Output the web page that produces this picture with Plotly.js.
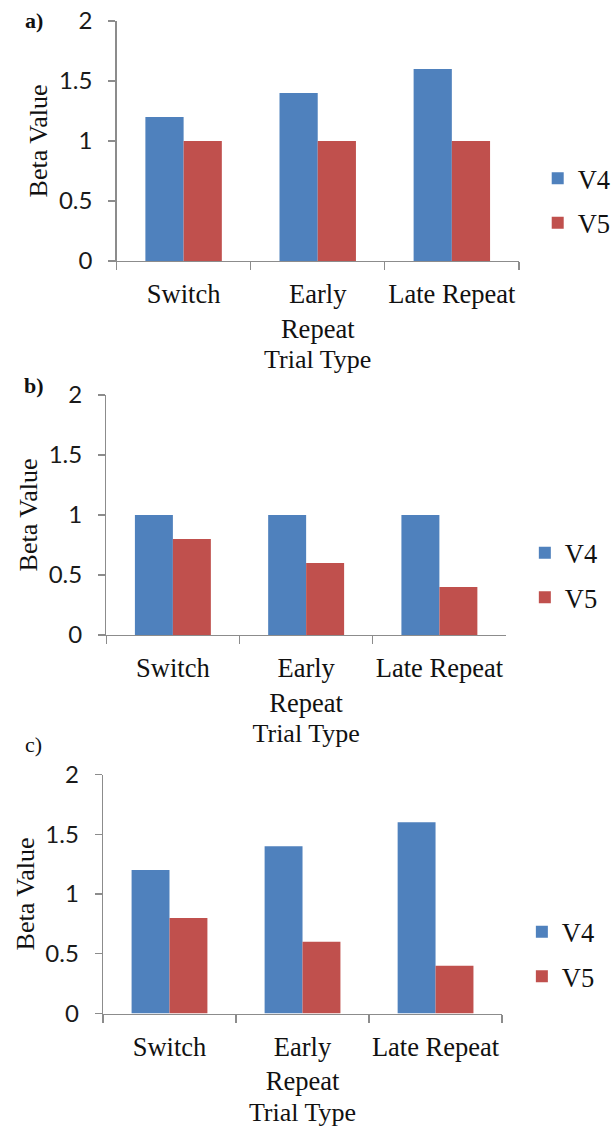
<!DOCTYPE html>
<html>
<head>
<meta charset="utf-8">
<script src="https://cdn.plot.ly/plotly-3.0.1.min.js"></script>
<style>
  html, body { margin: 0; padding: 0; background: #ffffff; }
  #chart { width: 616px; height: 1128px; }
</style>
</head>
<body>
<div id="chart"></div>
<script>
// Trial types shown on every panel
const categories = ['Switch', 'Early Repeat', 'Late Repeat'];
const categoryLabels = ['Switch', 'Early<br>Repeat', 'Late Repeat'];

// Beta values per panel
const panelA_V4 = [1.2, 1.4, 1.6];
const panelA_V5 = [1.0, 1.0, 1.0];
const panelB_V4 = [1.0, 1.0, 1.0];
const panelB_V5 = [0.8, 0.6, 0.4];
const panelC_V4 = [1.2, 1.4, 1.6];
const panelC_V5 = [0.8, 0.6, 0.4];

const yTicks = [0, 0.5, 1, 1.5, 2];
const yTickText = ['0', '0.5', '1', '1.5', '2'];
const panelLabels = ['a)', 'b)', 'c)'];
const seriesNames = ['V4', 'V5'];

const W = 616, H = 1128;
const BLUE = '#4F81BD';
const RED = '#C0504D';
const SERIF = 'Liberation Serif';
const SANS = 'Lato';
const AXIS_GREY = '#8c8c8c';

// plot areas in pixels: [left, right, top, bottom]
const boxes = [
  [117.7, 524, 21, 261],
  [107.3, 511, 395, 635],
  [104, 507, 774.5, 1013.5]
];
// legend placement: symbol centre x, vertical centre y
const legendPos = [
  [563, 200.6],
  [550, 575],
  [547, 954]
];
const labelPos = [[34, 21], [34, 385], [34, 744]];
const labelBold = [true, true, false];

const panels = [
  [panelA_V4, panelA_V5],
  [panelB_V4, panelB_V5],
  [panelC_V4, panelC_V5]
];

const px2x = p => p / W;
const px2y = p => 1 - p / H;

const data = [];
const layout = {
  width: W,
  height: H,
  margin: {l: 0, r: 0, t: 0, b: 0},
  paper_bgcolor: '#ffffff',
  plot_bgcolor: '#ffffff',
  font: {family: SERIF, size: 26, color: '#111111'},
  barmode: 'group',
  bargap: 0.43,
  bargroupgap: 0,
  showlegend: true,
  annotations: []
};

panels.forEach((vals, i) => {
  const n = i === 0 ? '' : String(i + 1);
  const legendName = 'legend' + n;
  const [l, r, t, b] = boxes[i];

  [BLUE, RED].forEach((col, k) => {
    data.push({
      type: 'bar',
      x: categories,
      y: vals[k],
      name: seriesNames[k],
      xaxis: 'x' + n,
      yaxis: 'y' + n,
      legend: legendName,
      legendgroup: 'g' + i + k,
      marker: {color: col, line: {width: 0}},
      hoverinfo: 'skip'
    });
  });

  layout['xaxis' + n] = {
    domain: [px2x(l), px2x(r)],
    anchor: 'y' + n,
    type: 'category',
    tickmode: 'array',
    tickvals: categories,
    ticktext: categoryLabels,
    tickangle: 0,
    tickson: 'boundaries',
    ticks: 'outside',
    ticklen: 8,
    tickwidth: 1.3,
    tickcolor: AXIS_GREY,
    showline: true,
    linecolor: AXIS_GREY,
    linewidth: 1.3,
    showgrid: false,
    zeroline: false,
    ticklabelstandoff: 9,
    tickfont: {family: SERIF, size: 26.5, color: '#111111'},
    title: {text: 'Trial Type', font: {family: SERIF, size: 26, color: '#111111'}, standoff: 7},
    fixedrange: true
  };
  layout['yaxis' + n] = {
    domain: [px2y(b), px2y(t)],
    anchor: 'x' + n,
    range: [0, 2],
    tickmode: 'array',
    tickvals: yTicks,
    ticktext: yTickText,
    ticks: 'outside',
    ticklen: 7,
    tickwidth: 1.3,
    tickcolor: AXIS_GREY,
    showline: true,
    linecolor: AXIS_GREY,
    linewidth: 1.3,
    showgrid: false,
    zeroline: false,
    ticklabelstandoff: 11,
    tickfont: {family: SANS, size: 24, color: '#1a1a1a'},
    title: {text: 'Beta Value', font: {family: SERIF, size: 26, color: '#111111'}, standoff: 3},
    fixedrange: true
  };

  const [lx, ly] = legendPos[i];
  layout[legendName] = {
    x: px2x(lx - 20),
    xanchor: 'left',
    y: px2y(ly),
    yanchor: 'middle',
    xref: 'paper',
    yref: 'paper',
    bgcolor: 'rgba(0,0,0,0)',
    borderwidth: 0,
    traceorder: 'grouped',
    tracegroupgap: 7,
    font: {family: SERIF, size: 26.5, color: '#111111'}
  };

  const [ax, ay] = labelPos[i];
  layout.annotations.push({
    text: labelBold[i] ? '<b>' + panelLabels[i] + '</b>' : panelLabels[i],
    xref: 'paper', yref: 'paper',
    x: px2x(ax), y: px2y(ay),
    xanchor: 'center', yanchor: 'middle',
    showarrow: false,
    font: {family: SERIF, size: 22, color: '#111111'}
  });
});

Plotly.newPlot('chart', data, layout, {displayModeBar: false, staticPlot: true});
</script>
</body>
</html>
